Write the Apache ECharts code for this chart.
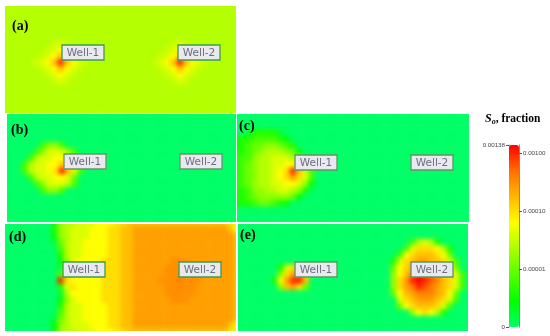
<!DOCTYPE html>
<html>
<head>
<meta charset="utf-8">
<script src="https://cdn.jsdelivr.net/npm/echarts@6/dist/echarts.min.js"></script>
<style type="text/css">
html, body { margin:0; padding:0; background:#fff; }
#page { position:relative; width:550px; height:336px; overflow:hidden; }
#chart { position:absolute; left:0; top:0; width:550px; height:336px; pointer-events:none; }
.panel { position:absolute; overflow:hidden; }
.field { position:absolute; filter:blur(2.2px); }
</style>
</head>
<body>
<div id="page"><div id="chart"></div></div>
<script type="text/javascript">
// one char per cell: position k in LEVELS means log10(So) = -6 + 0.2*k
// x, y, z, w are half steps (7.5, 8.5, 9.5, 12.5)
// spaces are only there for reading, short rows are filled up with the panel background
var LEVELS = '0123456789abcdefg';
var HALF_STEPS = { x: 7.5, y: 8.5, z: 9.5, w: 12.5 };
var COLS = 38, ROWS = 18;

var fieldA = [
  '', '', '', '', '', '',
  '77777 777x8x777 7777777777 777x8x777',
  '77777 77x898x77 7777777777 77x898x77',
  '77777 7x89b98x7 7777777777 7x89b98x7',
  '77777 x89bfb98x 7777777777 x89bfb98x',
  '77777 7x89b98x7 7777777777 7x89b98x7',
  '77777 77x898x77 7777777777 77x898x77',
  '77777 777x8x777 7777777777 777x8x777',
  '', '', '', '', ''
];
var fieldB = [
  '', '', '', '', '',
  '000000 4664',
  '00000 4688864',
  '0000 47889975',
  '000 478899b984',
  '000 47889afb84',
  '0000 47889985',
  '00000 4688874',
  '000000 4664',
  '', '', '', '', ''
];
var fieldC = [
  '', '', '',
  '00 133331',
  '233444432',
  '2345566543',
  '33456777652',
  '344677888763',
  '3456778899b84',
  '345677 89afb84',
  '345677 89aca84',
  '3456778899862',
  '334667788763',
  '33456666652',
  '233455432',
  '', '', ''
];
var fieldD = [
  '00000000 26 77 888 999 aa bbbbb bbbbb bbbbb b a8',
  '00000000 36 7 888 999 aa bb ccccc ccccc ccccc b9',
  '00000000 26 7 888 999 aa bb ccccc ccccc ccccc cb',
  '00000000 15 7 88 9999 aa bb ccccc ccccc ccccc cb',
  '000000000 4 7 88 9999 aa bb ccccc ccccc ccccc cb',
  '000000000 3 7 88 9999 aa bb ccccc ccccc ccccc cb',
  '000000000 2 6 8 9999 a aa bb cccccc www cccccc cb',
  '000000000 1 7 9 9999 a aa bb ccccc wwwww ccccc cb',
  '000000000 4 8 a 9999 a aa bb ccccc wwwww ccccc cb',
  '000000000 f a 9 9999 a aa bb cccc wwwdwww cccc cb',
  '000000000 3 8 a 9999 a aa bb ccccc wwwww ccccc cb',
  '000000000 1 7 9 9999 a aa bb ccccc wwwww ccccc cb',
  '000000000 2 6 8 9999 a aa bb cccccc www cccccc cb',
  '000000000 3 7 88 9999 aa bb ccccc ccccc ccccc cb',
  '000000000 4 7 88 9999 aa bb ccccc ccccc ccccc cb',
  '00000000 15 7 88 9999 aa bb ccccc ccccc ccccc cb',
  '00000000 26 7 888 999 aa bb ccccc ccccc ccccc b9',
  '00000000 26 77 888 999 aa bbbbb bbbbb bbbbb b a8'
];
var fieldE = [
  '', '', '',
  '0000000000 0000000000 00000000 47873',
  '0000000000 0000000000 0000000 48aaa973',
  '0000000000 0000000000 000000 49abbba95',
  '0000000000 0000000000 00000 38abccbba84',
  '0000000 38aa 00000000000000 59acddcba95',
  '0000000 6acd8 0000000000000 69bdfedcba84',
  '000000 39cffb 0000000000000 6acfgfedba84',
  '0000000 6bca5 0000000000000 6acdfedcba84',
  '0000000000 0000000000 00000 59bcdddcb95',
  '0000000000 0000000000 000000 8abcccba84',
  '0000000000 0000000000 000000 59abbba84',
  '0000000000 0000000000 00000000 69a973',
  '', '', ''
];

var panelFields = [fieldA, fieldB, fieldC, fieldD, fieldE];
var panelBackground = ['7', '0', '0', '0', '0'];
var panelNames = ['(a)', '(b)', '(c)', '(d)', '(e)'];
var wellNames = ['Well-1', 'Well-2'];

var barMin = -6, barMax = -2.86;
var barLeftTicks = [-6, -2.86];
var barLeftLabels = ['0', '0.00138'];
var barRightTicks = [-5, -4, -3];
var barRightLabels = ['0.00001', '0.00010', '0.00100'];
var barColors = ['#00ff66', '#00ff00', '#55ff00', '#aaff00', '#ffff00', '#ffb800', '#ff7000', '#ff0000'];

// [left, top, width, height] of each panel
var panelRects = [[5, 6, 231, 107], [7, 114, 229, 108], [237, 114, 232, 108], [5, 224, 231, 107], [238, 224, 230, 107]];
// [x, y] of the top left corner of Well-1 and Well-2 boxes
var wellBoxes = [[[62, 45], [178, 45]], [[64, 154], [180, 154]], [[295, 155], [411, 155]], [[63, 262], [179, 262]], [[295, 262], [411, 262]]];
var wellBorders = ['#3f9a50', '#70906f', '#5f9565', '#3f9a50', '#5f9565'];
var nameSpots = [[12, 26], [11, 130], [239, 126], [9, 237], [240, 235]];
var BLEED = 4; // field is drawn a bit past its clip so the blur does not fade at the edge

function range(n) {
  var out = [];
  for (var i = 0; i < n; i++) out.push(i);
  return out;
}

function level(ch) {
  return HALF_STEPS[ch] !== undefined ? HALF_STEPS[ch] : LEVELS.indexOf(ch);
}

function cells(field, bg) {
  var out = [];
  for (var r = 0; r < ROWS; r++) {
    var row = field[r].replace(/ /g, '');
    while (row.length < COLS) row += bg;
    for (var c = 0; c < COLS; c++) {
      out.push([c, r, -6 + 0.2 * level(row.charAt(c))]);
    }
  }
  return out;
}

var page = document.getElementById('page');
var chartNode = document.getElementById('chart');
var graphics = [];

for (var p = 0; p < panelFields.length; p++) {
  var rect = panelRects[p];
  var clip = document.createElement('div');
  clip.className = 'panel';
  clip.style.cssText = 'left:' + rect[0] + 'px;top:' + rect[1] + 'px;width:' + rect[2] + 'px;height:' + rect[3] + 'px';
  var fieldNode = document.createElement('div');
  fieldNode.className = 'field';
  fieldNode.style.cssText = 'left:' + (-BLEED) + 'px;top:' + (-BLEED) + 'px;width:' + (rect[2] + 2 * BLEED) + 'px;height:' + (rect[3] + 2 * BLEED) + 'px';
  clip.appendChild(fieldNode);
  page.insertBefore(clip, chartNode);

  echarts.init(fieldNode).setOption({
    animation: false,
    grid: { left: 0, top: 0, right: 0, bottom: 0 },
    xAxis: { type: 'category', data: range(COLS), show: false },
    yAxis: { type: 'category', data: range(ROWS), inverse: true, show: false },
    visualMap: { show: false, min: barMin, max: barMax, inRange: { color: barColors } },
    series: [{
      type: 'heatmap',
      data: cells(panelFields[p], panelBackground[p]),
      silent: true,
      progressive: 0
    }]
  });

  for (var w = 0; w < wellNames.length; w++) {
    graphics.push({
      type: 'rect',
      z: 100,
      shape: { x: wellBoxes[p][w][0], y: wellBoxes[p][w][1], width: 42, height: 15 },
      style: { fill: '#e9e9ef', stroke: wellBorders[p], lineWidth: 1.3 }
    });
    graphics.push({
      type: 'text',
      z: 101,
      x: wellBoxes[p][w][0] + 21,
      y: wellBoxes[p][w][1] + 8,
      style: { text: wellNames[w], fill: '#6b6f7c', font: '10.5px "DejaVu Sans"', textAlign: 'center', textVerticalAlign: 'middle' }
    });
  }
  graphics.push({
    type: 'text',
    z: 101,
    x: nameSpots[p][0],
    y: nameSpots[p][1],
    style: { text: panelNames[p], fill: '#000', font: 'bold 14px "Liberation Serif"', textVerticalAlign: 'middle' }
  });
}

graphics.push({
  type: 'text',
  x: 485,
  y: 119,
  style: {
    text: '{s|S}{o|o}{t|, fraction}',
    textVerticalAlign: 'middle',
    rich: {
      s: { font: 'italic bold 12px "Liberation Serif"', fill: '#000' },
      o: { font: 'italic bold 8px "Liberation Serif"', fill: '#000', verticalAlign: 'bottom', padding: [5, 0, 0, 0] },
      t: { font: 'bold 11.5px "Liberation Serif"', fill: '#000' }
    }
  }
});

// colour bar scale, the bar itself is the visualMap
var barLabelStyle = { fontSize: 6.2, color: '#444', fontFamily: 'Liberation Sans', margin: 4 };
var myChart = echarts.init(chartNode);
myChart.setOption({
  animation: false,
  grid: { left: 509, top: 145, width: 10, height: 182 },
  xAxis: { type: 'value', show: false },
  yAxis: [{
    type: 'value', position: 'left', min: barMin, max: barMax,
    splitLine: { show: false },
    axisLine: { show: true, lineStyle: { color: '#888' } },
    axisTick: { show: true, length: 3, customValues: barLeftTicks, lineStyle: { color: '#555' } },
    axisLabel: Object.assign({}, barLabelStyle, {
      customValues: barLeftTicks,
      formatter: function (v) { return barLeftLabels[barLeftTicks.indexOf(v)]; }
    })
  }, {
    type: 'value', position: 'right', min: barMin, max: barMax,
    splitLine: { show: false },
    axisLine: { show: true, lineStyle: { color: '#888' } },
    axisTick: { show: true, length: 3, customValues: barRightTicks, lineStyle: { color: '#555' } },
    axisLabel: Object.assign({}, barLabelStyle, {
      customValues: barRightTicks,
      formatter: function (v) { return barRightLabels[barRightTicks.indexOf(v)]; }
    })
  }],
  visualMap: {
    type: 'continuous',
    min: barMin,
    max: barMax,
    seriesIndex: 0,
    left: 509,
    top: 145,
    itemWidth: 10,
    itemHeight: 182,
    padding: 0,
    calculable: false,
    hoverLink: false,
    inRange: { color: barColors }
  },
  series: [{ type: 'scatter', data: [] }],
  graphic: graphics
});
</script>
</body>
</html>
